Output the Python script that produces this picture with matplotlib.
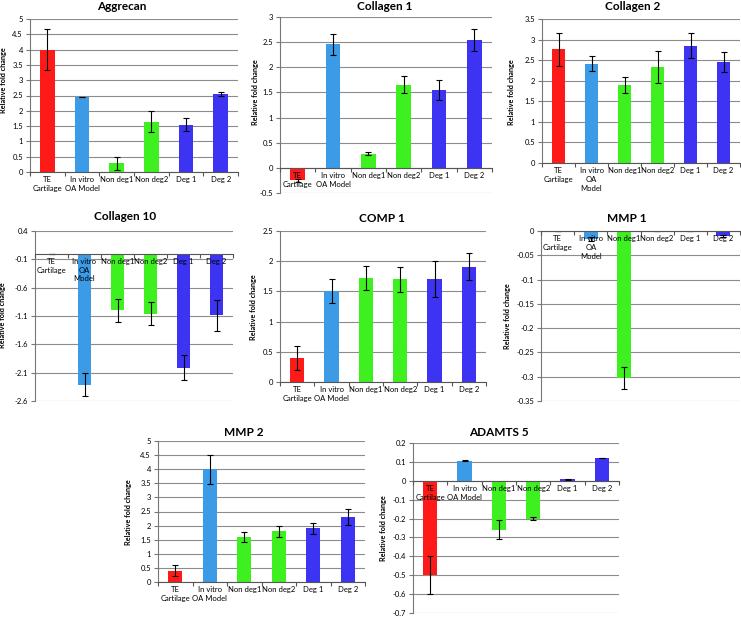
import matplotlib.pyplot as plt
import numpy as np

plt.rcParams['font.family'] = ['Lato', 'DejaVu Sans']

W, H = 741, 617

grupos = ['TE', 'In vitro', 'Non deg1', 'Non deg2', 'Deg 1', 'Deg 2']
etiquetas_a = ['TE\nCartilage', 'In vitro\nOA Model', 'Non deg1', 'Non deg2', 'Deg 1', 'Deg 2']
etiquetas_b = ['TE\nCartilage', 'In vitro\nOA\nModel', 'Non deg1', 'Non deg2', 'Deg 1', 'Deg 2']
colores = ['#FF1A1A', '#3C9BE6', '#3EF020', '#3EF020', '#3D33F2', '#3D33F2']

# valores
aggrecan = [4.0, 2.45, 0.29, 1.65, 1.55, 2.55]
aggrecan_err = [0.68, 0.01, 0.21, 0.34, 0.2, 0.05]

colageno1 = [-0.25, 2.46, 0.28, 1.65, 1.55, 2.54]
colageno1_err = [0.03, 0.21, 0.03, 0.17, 0.2, 0.22]

colageno2 = [2.76, 2.41, 1.9, 2.33, 2.85, 2.46]
colageno2_err = [0.4, 0.18, 0.2, 0.39, 0.31, 0.24]

colageno10 = [-0.01, -2.31, -1.0, -1.06, -2.01, -1.09]
colageno10_err = [0.0, 0.2, 0.2, 0.2, 0.22, 0.27]

comp1 = [0.4, 1.5, 1.72, 1.7, 1.71, 1.91]
comp1_err = [0.2, 0.2, 0.2, 0.21, 0.3, 0.22]

mmp1 = [-0.001, -0.016, -0.302, -0.001, -0.001, -0.011]
mmp1_err = [0.0, 0.004, 0.023, 0.0, 0.0, 0.002]

mmp2 = [0.4, 4.0, 1.6, 1.8, 1.9, 2.3]
mmp2_err = [0.2, 0.51, 0.19, 0.2, 0.2, 0.29]

adamts5 = [-0.5, 0.107, -0.26, -0.2, 0.007, 0.12]
adamts5_err = [0.1, 0.004, 0.05, 0.01, 0.002, 0.0]

# (titulo, valores, errores, etiquetas, ymin, ymax, paso,
#  caja en px [x0, x1, ytop, ybottom], titulo px (x, y), ylabel px (x, ycentro))
paneles = [
    ('Aggrecan', aggrecan, aggrecan_err, etiquetas_a, 0, 5, 0.5,
     [30, 238, 19, 172], (122, 7), (6.5, 80)),
    ('Collagen 1', colageno1, colageno1_err, etiquetas_a, -0.5, 3, 0.5,
     [280, 492, 17, 193], (385, 7), (259, 92)),
    ('Collagen 2', colageno2, colageno2_err, etiquetas_b, 0, 3.5, 0.5,
     [542, 740, 19, 163], (633, 7), (515, 92)),
    ('Collagen 10', colageno10, colageno10_err, etiquetas_b, -2.6, 0.4, 0.5,
     [35, 233, 231, 401], (125, 217), (6.5, 315)),
    ('COMP 1', comp1, comp1_err, etiquetas_a, 0, 2.5, 0.5,
     [280, 486, 231, 382], (382, 218), (257, 307)),
    ('MMP 1', mmp1, mmp1_err, etiquetas_b, -0.35, 0, 0.05,
     [541, 740, 231, 401], (627, 218), (511, 316)),
    ('MMP 2', mmp2, mmp2_err, etiquetas_a, 0, 5, 0.5,
     [158, 365, 441, 582], (244, 432), (132, 512)),
    ('ADAMTS 5', adamts5, adamts5_err, etiquetas_a, -0.7, 0.2, 0.1,
     [413, 619, 443, 613], (499, 432), (387, 528)),
]

fig = plt.figure(figsize=(W / 100, H / 100), dpi=100)

x = np.arange(len(grupos)) + 0.5

for titulo, vals, errs, etqs, ymin, ymax, paso, caja, tpos, lpos in paneles:
    x0, x1, yt, yb = caja
    ax = fig.add_axes([x0 / W, 1 - yb / H, (x1 - x0) / W, (yb - yt) / H])
    ax.bar(x, vals, width=0.42, color=colores, zorder=1)
    ax.errorbar(x, vals, yerr=errs, fmt='none', ecolor='black',
                elinewidth=0.8, capsize=2.5, capthick=0.8, zorder=2)
    ax.set_xlim(0, len(grupos))
    ax.set_ylim(ymin, ymax)
    ticks = np.round(np.arange(ymin, ymax + paso / 2, paso), 3) + 0.0
    ax.set_yticks(ticks)
    ax.set_yticklabels(['%g' % (t if abs(t) > 1e-9 else 0.0) for t in ticks],
                       fontsize=5.5)
    ax.yaxis.grid(True, color='#8c8c8c', linewidth=0.8)
    ax.set_axisbelow(True)
    ax.xaxis.set_zorder(3)

    for lado in ['top', 'right']:
        ax.spines[lado].set_visible(False)
    ax.spines['left'].set_color('#777777')
    ax.spines['left'].set_linewidth(0.8)
    ax.spines['bottom'].set_position(('data', 0))
    ax.spines['bottom'].set_color('#555555')
    ax.spines['bottom'].set_linewidth(0.8)

    ax.set_xticks(np.arange(len(grupos) + 1), minor=False)
    ax.set_xticklabels([])
    ax.set_xticks(x, minor=True)
    ax.set_xticklabels(etqs, minor=True, fontsize=5.5, linespacing=1.3)
    ax.tick_params(axis='x', which='major', length=3, width=0.8,
                   color='#555555', direction='out')
    ax.tick_params(axis='x', which='minor', length=0, pad=3)
    ax.tick_params(axis='y', length=3, width=0.8, color='#777777', pad=2)

    ax.set_ylabel('Relative fold change', fontsize=5.2, fontweight='bold')
    ax.yaxis.set_label_coords((lpos[0] - x0) / (x1 - x0),
                              (yb - lpos[1]) / (yb - yt))

    fig.text(tpos[0] / W, 1 - tpos[1] / H, titulo, fontsize=8.5,
             fontweight='bold', ha='center', va='center')

fig.savefig('out.png', dpi=100)
